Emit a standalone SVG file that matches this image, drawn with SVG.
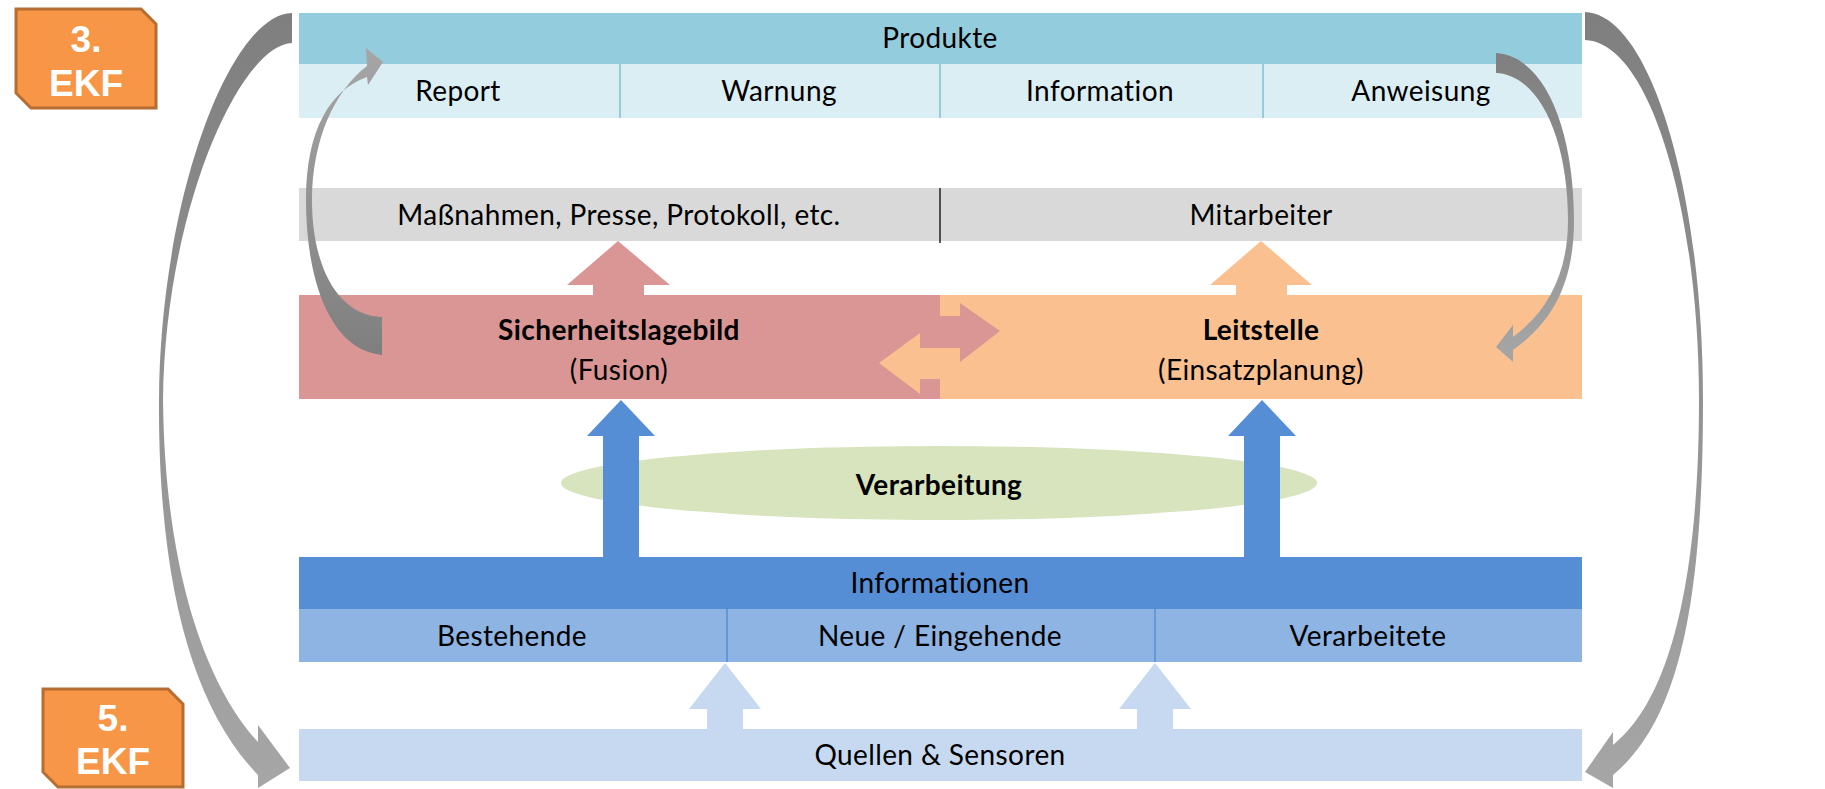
<svg xmlns="http://www.w3.org/2000/svg" width="1825" height="789" viewBox="0 0 1825 789">
<defs>
<linearGradient id="gDown" x1="0" y1="0" x2="0" y2="1"><stop offset="0" stop-color="#7f7f7f"/><stop offset="1" stop-color="#a6a6a6"/></linearGradient>
<linearGradient id="gUp" x1="0" y1="1" x2="0" y2="0"><stop offset="0" stop-color="#7f7f7f"/><stop offset="1" stop-color="#a6a6a6"/></linearGradient>
</defs>
<style>
text{font-family:Lato,"Liberation Sans",sans-serif;font-size:28px;letter-spacing:0.4px;fill:#000;text-anchor:middle;font-variant-ligatures:none}
.b{font-weight:bold}
.w{fill:#fff;font-family:"Liberation Sans",Arial,sans-serif;font-weight:bold;font-size:37px;letter-spacing:0}
.ekf{fill:#f79646;stroke:#b66d31;stroke-width:3}
</style>
<rect width="1825" height="789" fill="#fff"/>
<g id="produkte">
<rect x="299" y="13" width="1283" height="51" fill="#93cddd"/>
<text x="940" y="48">Produkte</text>
</g>
<g id="produkte-sub">
<rect x="299" y="64" width="1283" height="54" fill="#dbeef4"/>
<line x1="620" y1="64" x2="620" y2="118" stroke="#7fbfd4" stroke-width="1.5"/>
<line x1="940" y1="64" x2="940" y2="118" stroke="#7fbfd4" stroke-width="1.5"/>
<line x1="1263" y1="64" x2="1263" y2="118" stroke="#7fbfd4" stroke-width="1.5"/>
<text x="458" y="101">Report</text>
<text x="779" y="101">Warnung</text>
<text x="1100" y="101">Information</text>
<text x="1421" y="101">Anweisung</text>
</g>
<g id="massnahmen">
<rect x="299" y="188" width="1283" height="53" fill="#d9d9d9"/>
<line x1="940" y1="188" x2="940" y2="243" stroke="#222" stroke-width="1.5"/>
<text x="619" y="225">Maßnahmen, Presse, Protokoll, etc.</text>
<text x="1261" y="225">Mitarbeiter</text>
</g>
<g id="sicherheitslagebild">
<rect x="299" y="295" width="641" height="104" fill="#d99694"/>
<text class="b" x="619" y="340">Sicherheitslagebild</text>
<text x="619" y="380">(Fusion)</text>
</g>
<g id="leitstelle">
<rect x="940" y="295" width="642" height="104" fill="#fac090"/>
<text class="b" x="1261" y="340">Leitstelle</text>
<text x="1261" y="380">(Einsatzplanung)</text>
</g>
<g id="verarbeitung">
<ellipse cx="939" cy="483" rx="378" ry="37" fill="#d7e4bd"/>
</g>
<g id="informationen">
<rect x="299" y="557" width="1283" height="52" fill="#558ed5"/>
<text x="940" y="593">Informationen</text>
</g>
<g id="informationen-sub">
<rect x="299" y="609" width="1283" height="53" fill="#8eb4e3"/>
<line x1="727" y1="609" x2="727" y2="662" stroke="#558ed5" stroke-width="1.5"/>
<line x1="1155" y1="609" x2="1155" y2="662" stroke="#558ed5" stroke-width="1.5"/>
<text x="512" y="646">Bestehende</text>
<text x="940" y="646">Neue / Eingehende</text>
<text x="1368" y="646">Verarbeitete</text>
</g>
<g id="quellen">
<rect x="299" y="729" width="1283" height="52" fill="#c6d9f1"/>
<text x="940" y="765">Quellen &amp; Sensoren</text>
</g>
<g id="ekf3">
<path class="ekf" d="M16,9 H141 L156,24 V108 H31 L16,93 Z"/>
<text class="w" x="86" y="52">3.</text>
<text class="w" x="86" y="96">EKF</text>
</g>
<g id="ekf5">
<path class="ekf" d="M43,689 H168 L183,704 V787 H58 L43,772 Z"/>
<text class="w" x="113" y="731">5.</text>
<text class="w" x="113" y="774">EKF</text>
</g>
<g id="connectors">
<path d="M593,296 V285 H567 L618,241 L670,285 H644 V296 Z" fill="#d99694"/>
<path d="M1236,296 V285 H1210 L1261,241 L1312,285 H1287 V296 Z" fill="#fac090"/>
<path d="M940,316 H960 V303 L1000,331 L960,362 V348 H940 Z" fill="#d99694"/>
<path d="M940,348 H920 V333 L879,363 L920,394 V379 H940 Z" fill="#fac090"/>
<path d="M603,557 V436 H587 L621,400 L655,436 H639 V557 Z" fill="#558ed5"/>
<path d="M1244,557 V436 H1228 L1262,400 L1296,436 H1280 V557 Z" fill="#558ed5"/>
<text class="b" x="939" y="495">Verarbeitung</text>
<path d="M707,729 V709 H689 L725,663 L761,709 H743 V729 Z" fill="#c6d9f1"/>
<path d="M1137,729 V709 H1119 L1155,663 L1191,709 H1173 V729 Z" fill="#c6d9f1"/>
<path d="M1585,12 C1650,14 1703,190 1703,400 C1703,600 1680,720 1613,775 L1613,788 L1585,772 L1613,732 L1613,745 C1670,700 1699,580 1699,400 C1699,210 1650,42 1585,40 Z" fill="url(#gDown)"/>
<path d="M292,13 C230,14 160,200 159,400 C158,590 195,710 258,775 L258,788 L290,768 L258,725 L258,742 C210,690 165,580 163,400 C165,210 240,45 292,43 Z" fill="url(#gDown)"/>
<path d="M382,355 C330,350 306,280 306,200 C306,130 330,90 367,77 L368,85 L383,62 L366,48 L367,66 C335,90 312,140 312,200 C312,270 340,316 382,317 Z" fill="url(#gUp)"/>
<path d="M1496,53 C1545,56 1574,130 1574,220 C1574,280 1555,320 1513,350 L1513,362 L1496,347 L1513,325 L1513,337 C1550,310 1568,270 1568,220 C1568,140 1540,75 1496,73 Z" fill="url(#gDown)"/>
</g>
</svg>
